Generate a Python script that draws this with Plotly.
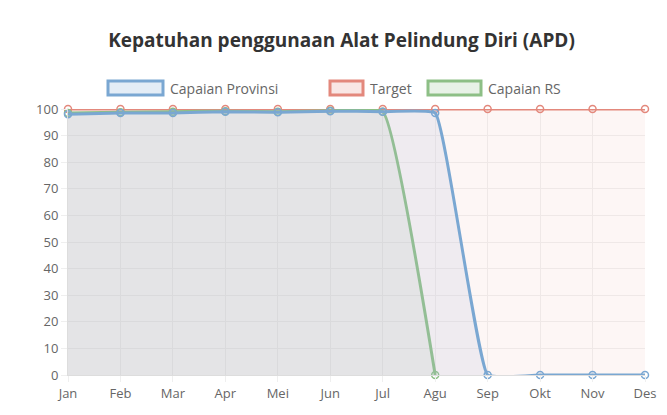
import plotly.graph_objects as go

months = ["Jan","Feb","Mar","Apr","Mei","Jun","Jul","Agu","Sep","Okt","Nov","Des"]
provinsi = [98, 98.5, 98.5, 99, 98.8, 99.2, 99, 98.5, 0, 0, 0, 0]
target = [100]*12
rs = [98.5, 98.8, 99, 99.2, 99, 99.3, 99, 0, None, None, None, None]

W, H = 667, 415
L, R, T, B = 60, 30, 101, 48
x = list(range(12))
fig = go.Figure()
def tr(y, col, fillc, name, sm):
    fig.add_trace(go.Scatter(x=x, y=y, name=name, mode="lines+markers", fill="tozeroy",
        fillcolor=fillc, line=dict(color=col, width=3, shape="spline", smoothing=sm),
        marker=dict(size=7, color="rgba(255,255,255,0)", line=dict(color=col, width=1.5)),
        cliponaxis=False, showlegend=False))
tr(target, "#e3887c", "rgba(240,180,170,0.12)", "Target", 0.5)
tr(rs, "#8dbf86", "rgba(160,190,160,0.15)", "Capaian RS", 0.35)
tr(provinsi, "#7aa7d2", "rgba(180,190,220,0.18)", "Capaian Provinsi", 0.3)

fig.update_layout(width=W, height=H, margin=dict(l=L, r=R, t=T, b=B, autoexpand=False),
    plot_bgcolor="white", paper_bgcolor="white",
    font=dict(family="Open Sans", color="#666", size=13),
    title=dict(text="<b>Kepatuhan penggunaan Alat Pelindung Diri (APD)</b>", x=0.5, xanchor="center",
               y=1-32/H, yanchor="middle", font=dict(size=19, color="#333", family="Open Sans")))
fig.update_xaxes(range=[0, 11], tickvals=x, ticktext=months, showgrid=True, gridcolor="#efefef",
                 ticks="outside", ticklen=6, tickcolor="#efefef", showline=True, linecolor="#ddd",
                 automargin=False)
fig.update_yaxes(range=[0, 100], dtick=10, showgrid=True, gridcolor="#efefef", zeroline=False,
                 ticks="outside", ticklen=6, tickcolor="#efefef", showline=True, linecolor="#ddd",
                 automargin=False)

legend = [("Capaian Provinsi", "#7aa7d2", "rgba(122,167,210,0.2)", 100, 155),
          ("Target", "#e3887c", "rgba(227,136,124,0.2)", 322, 355),
          ("Capaian RS", "#8dbf86", "rgba(141,191,134,0.2)", 420, 473)]
ph = H - T - B
pw = W - L - R
for name, col, fc, x0, x1 in legend:
    fig.add_shape(type="rect", xref="paper", yref="paper", x0=(x0-L)/pw, x1=(x1-L)/pw,
                  y0=1 + (T-87)/ph, y1=1 + (T-73)/ph,
                  line=dict(color=col, width=3), fillcolor=fc)
    fig.add_annotation(xref="paper", yref="paper", x=(x1+5-L)/pw, y=1 + (T-80)/ph,
                       text=name, showarrow=False, xanchor="left", yanchor="middle",
                       font=dict(size=14, color="#666"))
fig.write_html("out.html")
